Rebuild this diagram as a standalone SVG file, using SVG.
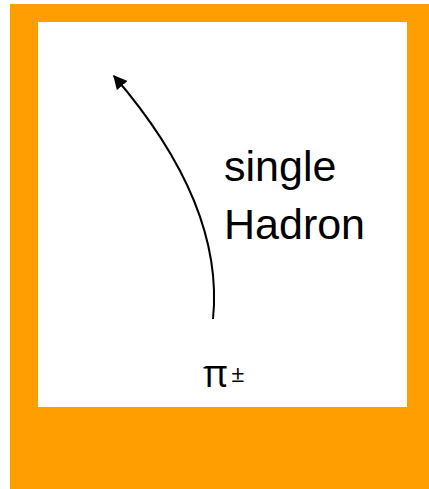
<svg xmlns="http://www.w3.org/2000/svg" width="429" height="489" viewBox="0 0 429 489">
<defs>
<style>
.lbl{font-family:"Liberation Sans",Arial,sans-serif;fill:#000}
.sym{font-family:"Open Sans","DejaVu Sans",sans-serif;fill:#000}
</style>
<marker id="ah" viewBox="0 0 10 10" refX="9" refY="5" markerWidth="7" markerHeight="7" orient="auto" markerUnits="strokeWidth">
<path d="M0,0 L10,5 L0,10 z" fill="#000"/>
</marker>
</defs>
<g id="frame">
<rect x="10" y="4" width="419" height="485" fill="#FF9E00"/>
<rect x="38" y="22" width="369" height="385" fill="#fff"/>
</g>
<g id="connectors">
<path d="M213,319 C220,250 195,170 114,76" fill="none" stroke="#000" stroke-width="2" marker-end="url(#ah)"/>
</g>
<g id="label">
<text class="lbl" x="224" y="181" font-size="43">single</text>
<text class="lbl" x="224" y="239" font-size="43">Hadron</text>
</g>
<g id="particle">
<text class="sym" x="203" y="387" font-size="38">π</text>
<text class="sym" x="231" y="382" font-size="24">±</text>
</g>
</svg>
